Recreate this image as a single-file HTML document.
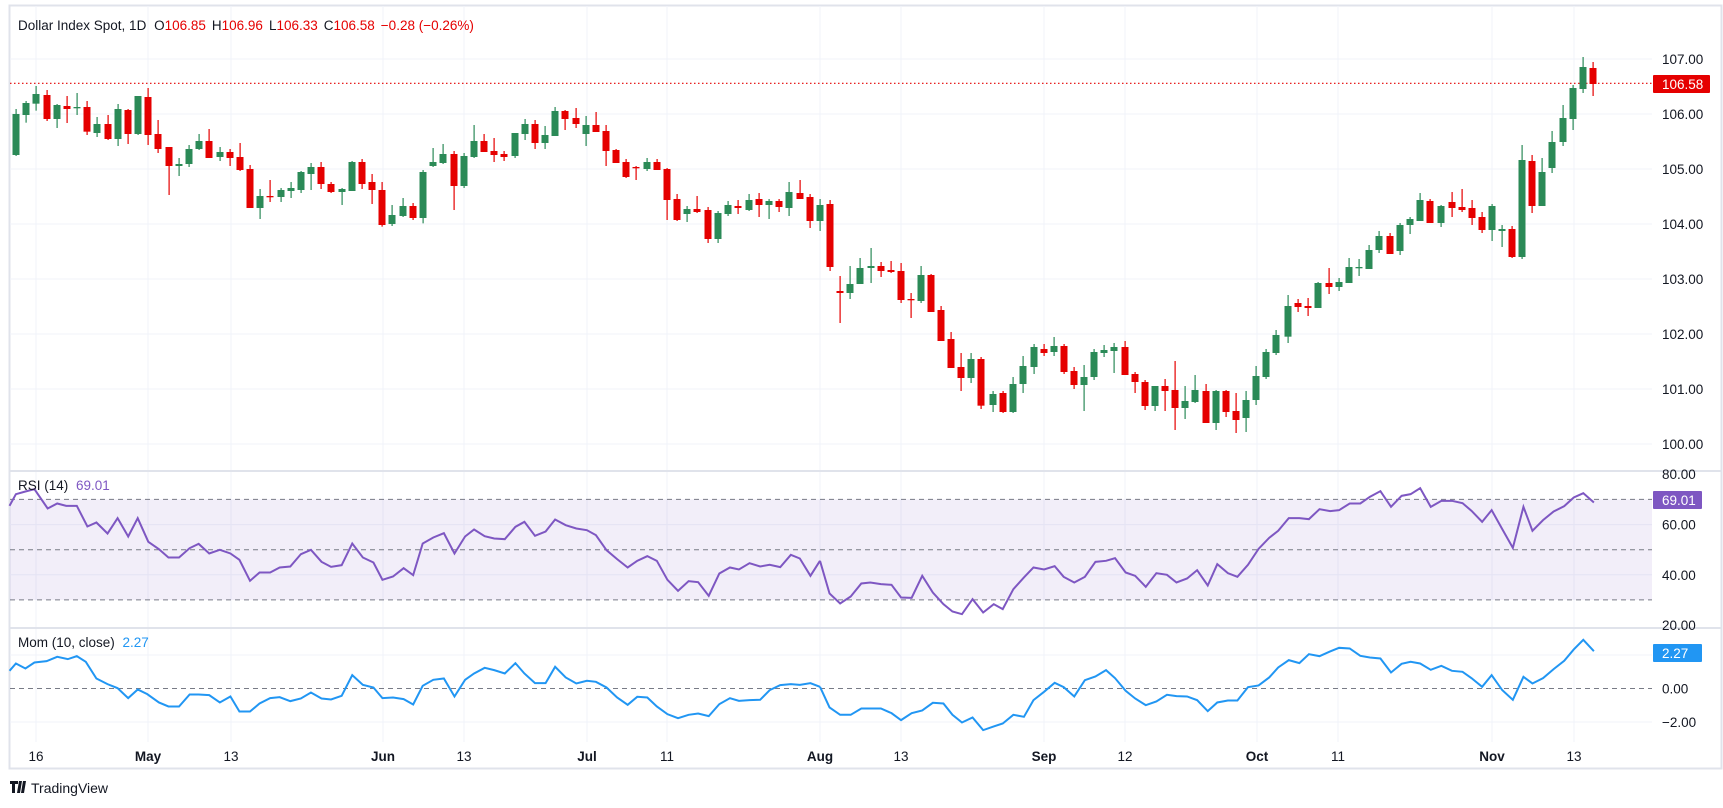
<!DOCTYPE html>
<html><head><meta charset="utf-8"><style>
html,body{margin:0;padding:0;background:#fff;}
body{width:1723px;height:803px;overflow:hidden;font-family:"Liberation Sans",sans-serif;}
</style></head><body>
<svg id="s" width="1723" height="803" xmlns="http://www.w3.org/2000/svg" font-family="Liberation Sans, sans-serif">
<rect x="0" y="0" width="1723" height="803" fill="#fff"/>
<rect x="9.5" y="5.5" width="1712" height="763" fill="none" stroke="#e0e3eb" stroke-width="2"/>
<g id="grid" stroke="#f0f3fa" stroke-width="1"></g>
<g transform="translate(0,-6)">
<g id="lgrid" stroke="#f0f3fa" stroke-width="1"></g>
<rect x="10" y="505.4" width="1642" height="100.5" fill="#7e57c2" fill-opacity="0.1"/>
<g stroke="#787b86" stroke-width="1" stroke-dasharray="5,4">
<line x1="10" y1="505.4" x2="1652" y2="505.4"/>
<line x1="10" y1="555.7" x2="1652" y2="555.7"/>
<line x1="10" y1="605.9" x2="1652" y2="605.9"/>
<line x1="10" y1="694.5" x2="1652" y2="694.5"/>
</g>
<line x1="10" y1="477" x2="1722" y2="477" stroke="#e0e3eb" stroke-width="2"/>
<line x1="10" y1="634" x2="1722" y2="634" stroke="#e0e3eb" stroke-width="2"/>
<g transform="translate(0,483.5) scale(0.5297,0.3333)">
<polyline fill="none" stroke="#7e57c2" stroke-width="2" vector-effect="non-scaling-stroke" points="18,85 30,50 48,42 65,35 90,93 108,78 125,85 145,85 165,147 182,135 203,168 222,122 242,177 260,122 280,193 300,215 318,240 338,240 358,212 375,199 395,228 415,217 435,228 452,247 472,310 490,285 510,285 528,270 548,267 568,230 587,217 607,253 625,268 645,263 665,198 685,240 705,255 722,307 742,297 762,272 780,293 798,198 818,180 838,167 858,228 878,177 895,156 915,176 933,183 953,185 973,148 990,133 1010,175 1030,162 1048,126 1068,143 1088,153 1108,158 1125,173 1145,218 1165,245 1185,270 1203,250 1222,236 1240,250 1260,307 1280,340 1300,311 1318,314 1338,355 1358,288 1378,270 1395,276 1415,257 1435,267 1453,262 1473,269 1493,232 1510,243 1530,295 1548,250"/>
<polyline fill="none" stroke="#2196f3" stroke-width="2" vector-effect="non-scaling-stroke" points="18,580 30,558 48,573 65,555 88,551 108,538 128,545 145,536 162,553 182,603 203,620 222,632 242,662 260,636 278,650 300,675 318,687 338,687 358,651 375,651 395,653 415,675 435,657 452,702 472,702 490,678 510,662 528,659 548,671 568,663 587,645 607,663 625,666 645,655 665,593 685,622 705,630 722,662 742,660 762,665 780,681 798,625 818,607 838,603 858,657 878,607 895,588 915,571 933,578 953,588 973,557 990,588 1010,617 1030,617 1048,568 1068,600 1088,618 1108,610 1125,613 1145,630 1165,660 1185,682 1203,658 1222,660 1240,687 1260,710 1280,722 1300,712 1318,708 1338,716 1358,680 1378,662 1395,670 1415,668 1435,667 1453,638 1473,623 1493,620 1510,622 1530,617 1548,628"/>
</g>
<g transform="translate(820,483.5) scale(0.5297,0.3333)">
<polyline fill="none" stroke="#7e57c2" stroke-width="2" vector-effect="non-scaling-stroke" points="0,250 18,348 38,378 58,357 78,318 95,315 115,320 135,322 153,360 173,361 193,295 213,345 233,380 250,402 268,410 288,365 308,405 328,380 345,395 365,335 385,300 403,270 423,276 443,266 460,298 480,315 500,298 520,253 540,250 557,242 577,285 595,295 615,328 635,287 655,292 673,315 693,303 712,278 732,324 750,260 770,287 788,298 808,262 828,214 848,181 865,160 885,122 905,122 923,125 943,95 963,101 980,98 1000,78 1020,78 1038,58 1058,41 1078,88 1098,55 1115,50 1133,32 1153,88 1173,70 1193,70 1213,77 1230,100 1250,133 1268,98 1288,155 1308,211 1328,88 1345,160 1365,128 1385,102 1405,86 1423,60 1441,47 1461,75"/>
<polyline fill="none" stroke="#2196f3" stroke-width="2" vector-effect="non-scaling-stroke" points="0,628 18,690 38,712 58,712 78,693 95,693 115,693 135,707 153,728 173,707 193,699 213,676 233,678 250,712 268,735 288,720 308,758 328,747 345,738 365,712 385,718 403,668 423,643 443,616 460,629 480,657 500,608 520,597 540,578 557,602 577,640 595,663 615,683 635,672 655,652 673,656 693,657 712,668 732,701 750,675 770,669 788,669 808,629 828,624 848,600 865,570 885,548 905,557 923,530 943,536 963,522 980,511 1000,513 1020,535 1038,540 1058,543 1078,585 1098,559 1115,553 1133,558 1153,577 1173,565 1193,580 1213,583 1230,602 1250,628 1268,593 1288,638 1308,667 1328,598 1345,618 1365,602 1385,575 1405,550 1423,516 1441,487 1461,521"/>
</g>
<text x="18" y="496" font-size="13.5" fill="#131722">RSI (14) <tspan dx="4" fill="#7e57c2">69.01</tspan></text>
<text x="18" y="653" font-size="13.5" fill="#131722">Mom (10, close) <tspan dx="4" fill="#2196f3">2.27</tspan></text>
<g id="laxis" font-size="13.5" fill="#131722"></g>
<rect x="1653" y="497" width="49" height="18" fill="#7e57c2" rx="1"/>
<text x="1662" y="511" font-size="13.5" fill="#fff">69.01</text>
<rect x="1653" y="650" width="49" height="18" fill="#2196f3" rx="1"/>
<text x="1662" y="664" font-size="13.5" fill="#fff">2.27</text>
</g>
<line x1="10" y1="83.3" x2="1652" y2="83.3" stroke="#e50000" stroke-width="1.2" stroke-dasharray="1.5,2.5"/>
<g id="candles"></g>
<text x="18" y="30" font-size="13.5" fill="#131722">Dollar Index Spot, 1D <tspan dx="4">O</tspan><tspan fill="#e50000">106.85</tspan><tspan dx="6">H</tspan><tspan fill="#e50000">106.96</tspan><tspan dx="6">L</tspan><tspan fill="#e50000">106.33</tspan><tspan dx="6">C</tspan><tspan fill="#e50000">106.58</tspan><tspan dx="6" fill="#e50000">−0.28 (−0.26%)</tspan></text>
<g id="axis" font-size="13.5" fill="#131722"></g>
<rect x="1653" y="75" width="57" height="18" fill="#e50000" rx="1"/>
<text x="1662" y="89" font-size="13.5" fill="#fff">106.58</text>
<g id="dates" font-size="13.5" fill="#131722" text-anchor="middle"></g>
<g transform="translate(10,779)">
<path d="M0 2h8v3h-3v9h-3v-9h-2z M9 2h3l-2 12h-3z M13 2h3l-2 12h-3z" fill="#131722"/>
<text x="21" y="14" font-size="14" fill="#131722">TradingView</text>
</g>
</svg>
<script>
var NS="http://www.w3.org/2000/svg";
function el(p,t,a,txt){var e=document.createElementNS(NS,t);for(var k in a)e.setAttribute(k,a[k]);if(txt!=null)e.textContent=txt;p.appendChild(e);return e;}
var grid=document.getElementById('grid'),lgrid=document.getElementById('lgrid');
var dates=[[36,'16',0],[148,'May',1],[231,'13',0],[383,'Jun',1],[464,'13',0],[587,'Jul',1],[667,'11',0],[820,'Aug',1],[901,'13',0],[1044,'Sep',1],[1125,'12',0],[1257,'Oct',1],[1338,'11',0],[1492,'Nov',1],[1574,'13',0]];
var dg=document.getElementById('dates');
dates.forEach(function(d){el(grid,'line',{x1:d[0],y1:6,x2:d[0],y2:742});var t=el(dg,'text',{x:d[0],y:761},d[1]);if(d[2])t.setAttribute('font-weight','bold');});
var ax=document.getElementById('axis'),lax=document.getElementById('laxis');
for(var p=100;p<=107;p++){var y=59+(107-p)*55.0;el(grid,'line',{x1:10,y1:y,x2:1652,y2:y});el(ax,'text',{x:1662,y:y+5},p.toFixed(2));}
[[479.8,'80.00'],[530.6,'60.00'],[580.8,'40.00'],[631,'20.00']].forEach(function(a){if(a[1]=='60.00'||a[1]=='40.00')el(lgrid,'line',{x1:10,y1:a[0],x2:1652,y2:a[0]});el(lax,'text',{x:1662,y:a[0]+5},a[1]);});
[[694.5,'0.00'],[728,'−2.00']].forEach(function(a){el(lax,'text',{x:1662,y:a[0]+5},a[1]);});
el(lgrid,'line',{x1:10,y1:661,x2:1652,y2:661});el(lgrid,'line',{x1:10,y1:728,x2:1652,y2:728});
var groups=[
[60,[[16,'G',162,285,147,288],[26,'G',129,165,123,188],[36,'G',102,131,78,152],[47,'R',105,177,90,183],[57,'G',135,177,132,204],[67,'R',138,147,108,189],[77,'G',141,144,99,165],[87,'R',141,215,123,225],[97,'G',192,219,171,231],[108,'R',192,237,165,240],[118,'G',147,237,132,258],[128,'R',150,222,147,252],[138,'G',108,222,108,225],[148,'R',111,225,84,255],[158,'R',222,267,180,279],[169,'R',261,318,261,405],[179,'G',312,318,294,348],[189,'G',267,312,255,321],[199,'G',243,267,222,270],[209,'R',243,294,207,294],[220,'G',276,291,261,303],[230,'R',276,294,267,318],[240,'R',291,330,249,333],[250,'R',327,444,315,444],[260,'G',408,444,387,477],[270,'R',408,411,360,426],[281,'G',390,411,384,426],[291,'G',384,393,366,414],[301,'G',336,390,333,399],[311,'G',321,342,309,390],[321,'R',321,372,306,387],[331,'R',372,396,366,399],[342,'G',387,396,384,435],[352,'G',306,393,303,393],[362,'R',306,372,297,387],[372,'R',366,390,342,432],[382,'R',390,495,366,500],[392,'G',465,492,435,498],[403,'G',438,468,414,471],[413,'R',438,474,429,480],[423,'G',336,474,330,490],[433,'G',306,318,264,321],[443,'G',282,309,252,312],[454,'R',282,378,273,450],[464,'G',288,378,279,384],[474,'G',243,291,195,294],[484,'R',243,276,222,276],[494,'R',273,285,234,306]]],
[90,[[504,'R',192,201,183,213],[515,'G',129,198,129,204],[525,'G',102,132,87,150],[535,'R',102,159,90,177],[545,'G',135,159,108,177],[555,'G',63,138,51,138],[565,'R',63,87,60,120],[576,'R',84,102,54,114],[586,'G',105,132,78,168],[596,'R',105,126,66,126],[606,'R',123,183,105,228],[616,'R',180,219,177,219],[626,'R',216,261,207,264],[636,'R',231,234,228,270],[647,'G',216,237,204,243],[657,'R',216,240,207,240],[667,'R',237,330,234,390],[677,'R',327,390,312,393],[687,'G',357,372,348,396],[697,'R',357,366,318,369],[708,'R',360,447,351,459],[718,'G',369,447,363,459],[728,'G',345,372,333,378],[738,'R',348,354,330,372],[749,'G',330,360,312,363],[759,'R',327,345,309,381],[769,'G',333,345,327,387],[779,'R',333,351,327,366],[789,'G',306,354,276,378],[800,'R',309,327,270,327],[810,'R',321,393,312,414],[820,'G',345,393,327,423],[830,'R',342,531,330,543],[840,'R',603,609,558,699],[850,'G',582,609,528,627],[860,'G',534,582,504,582],[871,'G',528,534,474,579],[881,'R',528,543,516,561],[891,'R',540,546,513,549],[901,'R',543,630,519,639],[911,'R',627,630,609,684],[921,'G',555,633,528,639],[931,'R',555,666,552,666],[941,'R',660,753,648,753],[951,'R',747,834,726,834],[961,'R',831,864,789,903],[971,'G',807,864,789,879],[981,'R',807,947,801,957]]],
[330,[[993,'G',192,225,183,246],[1003,'R',189,246,183,249],[1013,'G',162,246,141,249],[1023,'G',108,162,78,189],[1034,'G',51,111,42,132],[1044,'R',57,69,42,78],[1054,'G',48,66,21,78],[1064,'R',48,126,42,132],[1074,'R',123,165,111,177],[1084,'G',141,165,105,243],[1094,'G',66,141,57,150],[1104,'G',60,69,45,81],[1114,'G',51,63,39,129],[1125,'R',51,135,33,135],[1135,'R',132,156,126,189],[1145,'R',156,228,150,240],[1155,'G',168,228,168,243],[1165,'R',168,183,147,243],[1175,'R',180,234,93,300],[1185,'G',213,234,168,267],[1195,'G',180,216,135,219],[1206,'R',183,279,162,279],[1216,'G',183,279,180,300],[1226,'R',183,246,180,261],[1236,'R',243,270,189,309],[1246,'G',210,264,183,306],[1256,'G',138,210,108,225],[1266,'G',66,141,57,147],[1276,'G',15,69,0,75]]],
[40,[[1288,'G',798,890,765,909],[1298,'R',789,801,777,816],[1308,'R',798,804,774,828],[1318,'G',729,804,726,804],[1329,'R',729,741,684,762],[1339,'G',726,741,714,753],[1349,'G',681,729,654,729],[1359,'G',681,684,657,708],[1369,'G',630,687,615,687],[1379,'G',588,630,573,639],[1390,'R',588,642,579,642],[1400,'G',555,633,549,645],[1410,'G',537,555,531,582],[1420,'G',480,543,459,543],[1430,'R',483,549,477,549],[1441,'G',498,549,495,561]]],
[60,[[1452,'R',426,444,396,471],[1462,'R',441,450,387,456],[1472,'R',444,474,420,495],[1482,'R',471,510,456,519],[1492,'G',438,510,432,543],[1502,'G',507,513,495,561],[1512,'R',507,591,498,594],[1522,'G',300,591,255,597],[1532,'R',303,438,285,459],[1542,'G',336,438,294,438],[1552,'G',246,324,213,339],[1563,'G',174,246,135,258],[1573,'G',84,177,75,210],[1583,'G',21,87,-9,99],[1593,'R',24,72,6,108]]]
];
var cg=document.getElementById('candles');
groups.forEach(function(g){var oy=g[0];g[1].forEach(function(c){var col=c[1]=='G'?'#2b8a57':'#e50000';var x=c[0];
var bt=oy+c[2]/3,bb=oy+c[3]/3,wt=oy+c[4]/3,wb=oy+c[5]/3;
el(cg,'rect',{x:x-0.5,y:wt,width:1.2,height:Math.max(1,wb-wt),fill:col});
el(cg,'rect',{x:x-3.5,y:bt,width:7,height:Math.max(1.3,bb-bt),fill:col});});});
</script>
</body></html>
